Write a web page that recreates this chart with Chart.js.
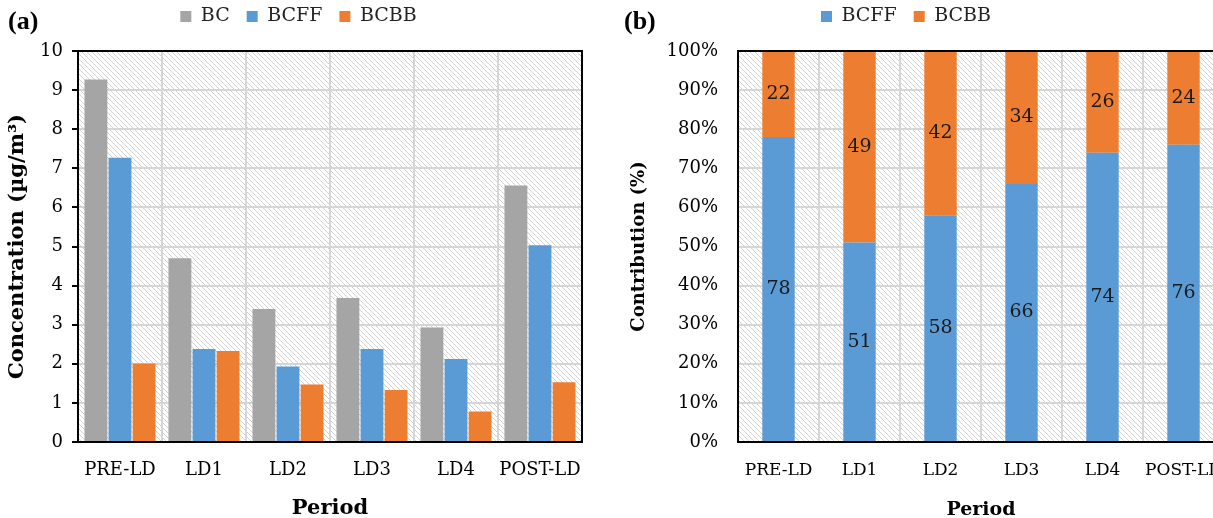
<!DOCTYPE html>
<html>
<head>
<meta charset="utf-8">
<script src="https://cdn.jsdelivr.net/npm/chart.js@4.4.1/dist/chart.umd.min.js"></script>
<style>
  html, body { margin:0; padding:0; background:#fff; }
  body { width:1213px; height:518px; overflow:hidden; position:relative; }
  .wrap { position:absolute; top:0; height:518px; }
  .panel { position:absolute; font-family:'Liberation Serif', serif; font-weight:bold; font-size:26px; color:#000; line-height:1; }
</style>
</head>
<body>
<div class="wrap" style="left:0;width:600px;"><canvas id="ca" width="600" height="518"></canvas></div>
<div class="wrap" style="left:588px;width:636px;"><canvas id="cb" width="636" height="518"></canvas></div>
<div class="panel" style="left:8px;top:8px;">(a)</div>
<div class="panel" style="left:624px;top:8px;">(b)</div>
<script>
const categories = ['PRE-LD', 'LD1', 'LD2', 'LD3', 'LD4', 'POST-LD'];
const bcValues   = [9.27, 4.70, 3.40, 3.68, 2.93, 6.56];
const bcffValues = [7.27, 2.38, 1.93, 2.38, 2.12, 5.03];
const bcbbValues = [2.01, 2.33, 1.47, 1.33, 0.78, 1.53];
const bcffShare  = [78, 51, 58, 66, 74, 76];
const bcbbShare  = [22, 49, 42, 34, 26, 24];

const GRAY = '#a5a5a5', BLUE = '#5b9bd5', ORANGE = '#ed7d31';
const GRID = '#d6d6d6';
const FONT = "'DejaVu Serif', serif";

function makeHatch() {
  const c = document.createElement('canvas');
  c.width = 5; c.height = 5;
  const g = c.getContext('2d');
  g.fillStyle = '#ffffff'; g.fillRect(0, 0, 5, 5);
  g.strokeStyle = '#d2d2d2'; g.lineWidth = 1;
  g.beginPath(); g.moveTo(-1, -1); g.lineTo(6, 6); g.stroke();
  return c;
}
const hatchCanvas = makeHatch();

const hatchPlugin = {
  id: 'hatch',
  beforeDraw(chart) {
    const { ctx, chartArea: a } = chart;
    ctx.save();
    ctx.fillStyle = ctx.createPattern(hatchCanvas, 'repeat');
    ctx.fillRect(a.left, a.top, a.right - a.left, a.bottom - a.top);
    ctx.restore();
  }
};
const framePlugin = {
  id: 'frame',
  afterDatasetsDraw(chart) {
    const { ctx, chartArea: a } = chart;
    ctx.save();
    ctx.strokeStyle = '#000'; ctx.lineWidth = 2;
    ctx.strokeRect(a.left, a.top, a.right - a.left, a.bottom - a.top);
    ctx.restore();
  }
};
const labelPlugin = {
  id: 'barLabels',
  afterDatasetsDraw(chart) {
    const { ctx } = chart;
    ctx.save();
    ctx.font = '19px ' + FONT;
    ctx.fillStyle = '#1a1a1a';
    ctx.textAlign = 'center';
    ctx.textBaseline = 'middle';
    chart.data.datasets.forEach((ds, i) => {
      chart.getDatasetMeta(i).data.forEach((el, j) => {
        const p = el.getCenterPoint();
        ctx.fillText(String(ds.data[j]), p.x, p.y);
      });
    });
    ctx.restore();
  }
};

function legendOpts() {
  return {
    display: true, position: 'top', weight: 3000,
    labels: { boxWidth: 11, boxHeight: 11, padding: 17, color: '#222',
              font: { family: FONT, size: 19 } }
  };
}
function spacerTitle() {
  return { display: true, text: '', weight: 2000, font: { size: 2, lineHeight: 1 }, padding: { top: 0, bottom: 13 } };
}
function xScale(tickSize, titleSize, zeroPad) {
  return {
    grid: { offset: true, color: GRID, lineWidth: 2, drawTicks: false },
    border: { display: false },
    ticks: { color: '#000', padding: 18, autoSkip: false, maxRotation: 0, minRotation: 0,
             font: { family: FONT, size: tickSize } },
    title: { display: true, text: 'Period', color: '#000', font: { family: FONT, size: titleSize, weight: 'bold' }, padding: { top: 0, bottom: -3 } },
    afterFit(s) {
      s.height = 76;
      if (zeroPad) { s.paddingLeft = 0; s.paddingRight = 0; }
    }
  };
}

new Chart(document.getElementById('ca'), {
  type: 'bar',
  data: {
    labels: categories,
    datasets: [
      { label: 'BC',   data: bcValues,   backgroundColor: GRAY },
      { label: 'BCFF', data: bcffValues, backgroundColor: BLUE },
      { label: 'BCBB', data: bcbbValues, backgroundColor: ORANGE }
    ]
  },
  options: {
    responsive: false, animation: false,
    layout: { padding: { left: 15, right: 18, top: -10, bottom: 0 } },
    datasets: { bar: { categoryPercentage: 0.86, barPercentage: 0.95 } },
    plugins: { legend: legendOpts(), title: spacerTitle(), tooltip: { enabled: false } },
    scales: {
      x: xScale(18, 21, true),
      y: {
        min: 0, max: 10,
        ticks: { stepSize: 1, color: '#000', padding: 9, font: { family: FONT, size: 18 } },
        grid: { color: GRID, lineWidth: 2, tickColor: '#000', tickLength: 6, tickWidth: 2 },
        border: { display: false },
        title: { display: true, text: 'Concentration (µg/m³)', color: '#000', font: { family: FONT, size: 21, weight: 'bold' }, padding: { top: -10, bottom: 0 } },
        afterFit(s) { s.width = 63; }
      }
    }
  },
  plugins: [hatchPlugin, framePlugin]
});

new Chart(document.getElementById('cb'), {
  type: 'bar',
  data: {
    labels: categories,
    datasets: [
      { label: 'BCFF', data: bcffShare, backgroundColor: BLUE },
      { label: 'BCBB', data: bcbbShare, backgroundColor: ORANGE }
    ]
  },
  options: {
    responsive: false, animation: false,
    layout: { padding: { left: 0, right: 0, top: -10, bottom: 0 } },
    datasets: { bar: { categoryPercentage: 1.0, barPercentage: 0.4 } },
    plugins: { legend: legendOpts(), title: spacerTitle(), tooltip: { enabled: false } },
    scales: {
      x: Object.assign(xScale(17, 19, true), { stacked: true }),
      y: {
        stacked: true, min: 0, max: 100,
        ticks: { stepSize: 10, color: '#000', padding: 20, font: { family: FONT, size: 18 }, callback: v => v + '%' },
        grid: { color: GRID, lineWidth: 2, drawTicks: false },
        border: { display: false },
        title: { display: true, text: 'Contribution (%)', color: '#000', font: { family: FONT, size: 18, weight: 'bold' }, padding: { top: 41, bottom: 0 } },
        afterFit(s) { s.width = 150; }
      }
    }
  },
  plugins: [hatchPlugin, labelPlugin, framePlugin]
});
</script>
</body>
</html>
